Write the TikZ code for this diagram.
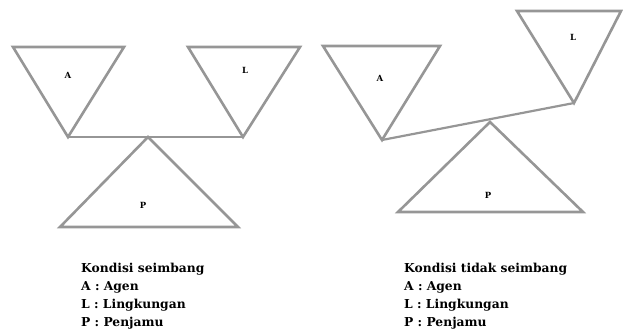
\documentclass[tikz,border=0pt]{standalone}
\usepackage{fontspec}
\setmainfont{DejaVu Serif}
\usetikzlibrary{positioning}
\definecolor{edge}{RGB}{150,150,150}

\begin{document}
\begin{tikzpicture}[x=1pt,y=-1pt,
  tri/.style={draw=edge,line width=2.6pt,line join=miter},
  beam/.style={draw=edge,line width=2.2pt},
  tag/.style={font=\bfseries\fontsize{8.5}{10}\selectfont},
  legend/.style={anchor=base west,align=left,inner sep=0pt,font=\bfseries\fontsize{12.3}{17.7}\selectfont}]
  \useasboundingbox (0,0) rectangle (623,332);
  % kondisi seimbang
  \coordinate (a1) at (68,137);
  \coordinate (l1) at (243,137);
  \coordinate (p1) at (148,137);
  \draw[tri] (13,47) -- (124,47) -- (a1) -- cycle;
  \draw[tri] (188,47) -- (300,47) -- (l1) -- cycle;
  \draw[tri] (p1) -- (238,227) -- (60,227) -- cycle;
  \draw[beam] (a1) -- (l1);
  \node[tag] (ta1) at (68,75) {A};
  \node[tag] (tl1) at (245,70) {L};
  \node[tag] (tp1) at (143,205) {P};
  \node[legend] (k1) at (81,326) {Kondisi seimbang\\A : Agen\\L : Lingkungan\\P : Penjamu};
  % kondisi tidak seimbang
  \coordinate (a2) at (382,140);
  \coordinate (l2) at (574,103);
  \coordinate (p2) at (490,122);
  \draw[tri] (323,46) -- (440,46) -- (a2) -- cycle;
  \draw[tri] (517,11) -- (621,11) -- (l2) -- cycle;
  \draw[tri] (p2) -- (583,212) -- (398,212) -- cycle;
  \draw[beam] (a2) -- (l2);
  \node[tag] (ta2) at (380,78) {A};
  \node[tag] (tl2) at (573,37) {L};
  \node[tag] (tp2) at (488,195) {P};
  \node[legend] (k2) at (404,326) {Kondisi tidak seimbang\\A : Agen\\L : Lingkungan\\P : Penjamu};
\end{tikzpicture}
\end{document}
